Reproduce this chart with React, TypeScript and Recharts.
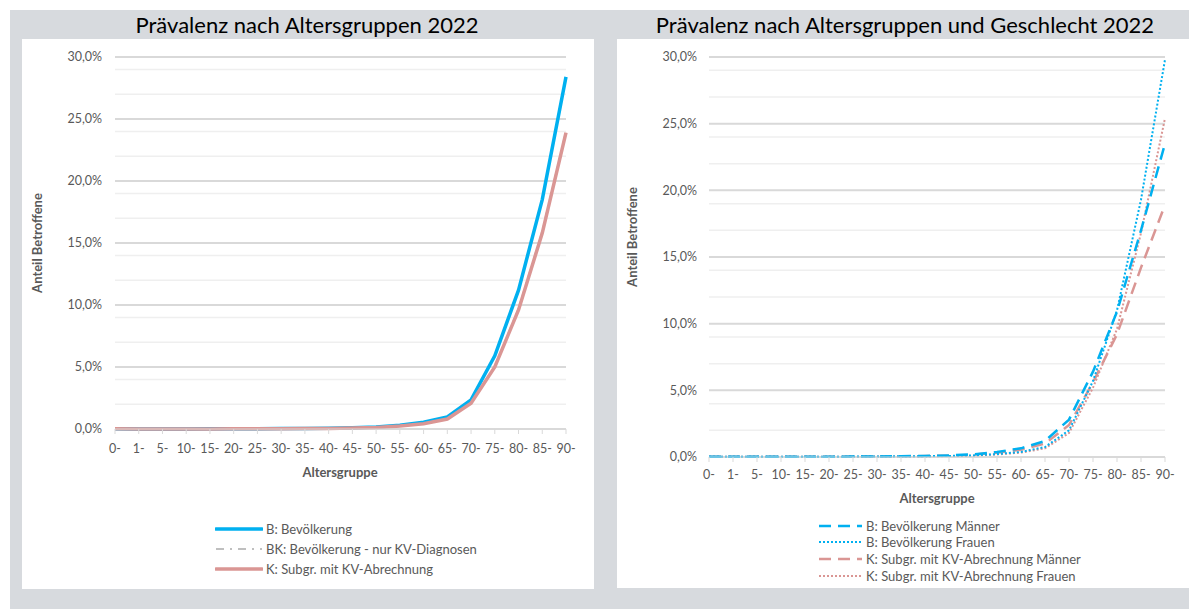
import React from 'react';
import { LineChart, Line, XAxis, YAxis, CartesianGrid } from 'recharts';

const ageGroups = ['0-', '1-', '5-', '10-', '15-', '20-', '25-', '30-', '35-', '40-', '45-', '50-', '55-', '60-', '65-', '70-', '75-', '80-', '85-', '90-'];

// Anteil in Prozent
const bevoelkerung = [0.02, 0.01, 0.01, 0.01, 0.02, 0.02, 0.03, 0.04, 0.05, 0.07, 0.1, 0.16, 0.3, 0.55, 0.98, 2.35, 5.9, 11.2, 18.5, 28.4];
const bevoelkerungKV = [0.02, 0.01, 0.01, 0.01, 0.01, 0.02, 0.02, 0.03, 0.04, 0.05, 0.08, 0.13, 0.25, 0.44, 0.82, 2.1, 5.05, 9.7, 15.9, 24.0];
const subgruppeKV = [0.02, 0.01, 0.01, 0.01, 0.01, 0.02, 0.02, 0.03, 0.04, 0.05, 0.08, 0.13, 0.24, 0.42, 0.8, 2.07, 5.0, 9.6, 15.8, 23.9];

const bevMaenner = [0.02, 0.01, 0.01, 0.01, 0.02, 0.02, 0.03, 0.04, 0.06, 0.08, 0.12, 0.2, 0.38, 0.65, 1.2, 2.8, 6.4, 10.9, 17.0, 23.5];
const bevFrauen = [0.02, 0.01, 0.01, 0.01, 0.01, 0.02, 0.03, 0.04, 0.05, 0.06, 0.08, 0.12, 0.22, 0.38, 0.75, 2.0, 5.7, 11.0, 19.3, 29.8];
const kvMaenner = [0.02, 0.01, 0.01, 0.01, 0.02, 0.02, 0.03, 0.04, 0.05, 0.07, 0.1, 0.17, 0.32, 0.55, 1.0, 2.4, 5.6, 9.2, 14.2, 18.9];
const kvFrauen = [0.02, 0.01, 0.01, 0.01, 0.01, 0.02, 0.02, 0.03, 0.04, 0.05, 0.07, 0.1, 0.19, 0.33, 0.65, 1.8, 5.2, 9.6, 16.8, 25.4];

const majorTicks = [0, 5, 10, 15, 20, 25, 30];
const minorTicks = [1, 2, 3, 4, 6, 7, 8, 9, 11, 12, 13, 14, 16, 17, 18, 19, 21, 22, 23, 24, 26, 27, 28, 29];

const FONT = 'Lato, "Open Sans", sans-serif';
const TEXT = '#595959';
const BLUE = '#00b0f0';
const RED = '#da9694';
const GREY_BG = '#d7dade';

const totalData = ageGroups.map((g, i) => ({
  name: g,
  b: bevoelkerung[i],
  bk: bevoelkerungKV[i],
  k: subgruppeKV[i],
}));

const sexData = ageGroups.map((g, i) => ({
  name: g,
  bm: bevMaenner[i],
  bf: bevFrauen[i],
  km: kvMaenner[i],
  kf: kvFrauen[i],
}));

const pct = (v: number) => `${v.toFixed(1).replace('.', ',')}%`;

const tickStyle = { fontSize: 12.5, fill: TEXT, fontFamily: FONT };

function Grid() {
  return (
    <>
      <CartesianGrid vertical={false} horizontalValues={minorTicks} stroke="#efefef" strokeWidth={1.5} />
      <CartesianGrid vertical={false} horizontalValues={majorTicks} stroke="#d9d9d9" strokeWidth={2} />
    </>
  );
}

function LegendRow({ label, color, dash, width, top, left, lineW }: { label: string; color: string; dash?: string; width: number; top: number; left: number; lineW: number }) {
  return (
    <div style={{ position: 'absolute', left, top, display: 'flex', alignItems: 'center', height: 16 }}>
      <svg width={lineW} height={8} style={{ marginRight: 3 }}>
        <line x1={1} y1={4} x2={lineW - 1} y2={4} stroke={color} strokeWidth={width} strokeDasharray={dash} strokeLinecap={dash ? 'butt' : 'round'} />
      </svg>
      <span style={{ fontSize: 13, color: TEXT, fontFamily: FONT, whiteSpace: 'nowrap' }}>{label}</span>
    </div>
  );
}

const titleStyle: React.CSSProperties = {
  position: 'absolute',
  fontFamily: FONT,
  fontSize: 22,
  color: '#000',
  whiteSpace: 'nowrap',
  transform: 'translateX(-50%)',
};

const axisTitle: React.CSSProperties = {
  position: 'absolute',
  fontFamily: FONT,
  fontSize: 13,
  fontWeight: 700,
  color: TEXT,
  whiteSpace: 'nowrap',
};

export default function App() {
  return (
    <div style={{ position: 'fixed', left: 0, top: 0, width: 1189, height: 609, background: '#fff', overflow: 'hidden' }}>
      <div style={{ position: 'absolute', left: 10, top: 10, width: 1179, height: 599, background: GREY_BG }} />

      {/* linkes Diagramm */}
      <div style={{ ...titleStyle, left: 307, top: 11 }}>Prävalenz nach Altersgruppen 2022</div>
      <div style={{ position: 'absolute', left: 22, top: 39, width: 572, height: 550, background: '#fff' }}>
        <LineChart width={572} height={550} data={totalData} margin={{ top: 18, right: 28, left: 33, bottom: 130 }}>
          <Grid />
          <XAxis
            dataKey="name"
            interval={0}
            stroke="#d9d9d9"
            tick={tickStyle}
            tickSize={5}
            tickMargin={10}
            height={30}
          />
          <YAxis
            domain={[0, 30]}
            ticks={majorTicks}
            tickFormatter={pct}
            axisLine={false}
            tickLine={false}
            tickSize={0}
            tickMargin={13}
            width={60}
            tick={tickStyle}
          />
          <Line type="linear" dataKey="bk" stroke="#bfbfbf" strokeWidth={2} strokeDasharray="8 5 2 5" dot={false} isAnimationActive={false} />
          <Line type="linear" dataKey="b" stroke={BLUE} strokeWidth={3.5} dot={false} isAnimationActive={false} />
          <Line type="linear" dataKey="k" stroke={RED} strokeWidth={3.5} dot={false} isAnimationActive={false} />
        </LineChart>
      </div>
      <div style={{ ...axisTitle, left: 37, top: 243, transform: 'translate(-50%, -50%) rotate(-90deg)' }}>Anteil Betroffene</div>
      <div style={{ ...axisTitle, left: 340, top: 472, transform: 'translate(-50%, -50%)' }}>Altersgruppe</div>
      <LegendRow label="B: Bevölkerung" color={BLUE} width={3.5} top={521} left={215} lineW={48} />
      <LegendRow label="BK: Bevölkerung - nur KV-Diagnosen" color="#bfbfbf" width={2} dash="8 6 2 6" top={541} left={215} lineW={48} />
      <LegendRow label="K: Subgr. mit KV-Abrechnung" color={RED} width={3.5} top={561} left={215} lineW={48} />

      {/* rechtes Diagramm */}
      <div style={{ ...titleStyle, left: 905, top: 11 }}>Prävalenz nach Altersgruppen und Geschlecht 2022</div>
      <div style={{ position: 'absolute', left: 617, top: 39, width: 572, height: 549, background: '#fff' }}>
        <LineChart width={572} height={549} data={sexData} margin={{ top: 18, right: 24, left: 32, bottom: 101 }}>
          <Grid />
          <XAxis
            dataKey="name"
            interval={0}
            stroke="#d9d9d9"
            tick={tickStyle}
            tickSize={5}
            tickMargin={8}
            height={30}
          />
          <YAxis
            domain={[0, 30]}
            ticks={majorTicks}
            tickFormatter={pct}
            axisLine={false}
            tickLine={false}
            tickSize={0}
            tickMargin={12}
            width={60}
            tick={tickStyle}
          />
          <Line type="linear" dataKey="km" stroke={RED} strokeWidth={2.5} strokeDasharray="12 7" dot={false} isAnimationActive={false} />
          <Line type="linear" dataKey="kf" stroke={RED} strokeWidth={2} strokeDasharray="2 2" dot={false} isAnimationActive={false} />
          <Line type="linear" dataKey="bm" stroke={BLUE} strokeWidth={2.5} strokeDasharray="12 7" dot={false} isAnimationActive={false} />
          <Line type="linear" dataKey="bf" stroke={BLUE} strokeWidth={2} strokeDasharray="2 2" dot={false} isAnimationActive={false} />
        </LineChart>
      </div>
      <div style={{ ...axisTitle, left: 632, top: 237, transform: 'translate(-50%, -50%) rotate(-90deg)' }}>Anteil Betroffene</div>
      <div style={{ ...axisTitle, left: 937, top: 498, transform: 'translate(-50%, -50%)' }}>Altersgruppe</div>
      <LegendRow label="B: Bevölkerung Männer" color={BLUE} width={2.5} dash="12 7" top={518} left={818} lineW={45} />
      <LegendRow label="B: Bevölkerung Frauen" color={BLUE} width={2} dash="2 2" top={534} left={818} lineW={45} />
      <LegendRow label="K: Subgr. mit KV-Abrechnung Männer" color={RED} width={2.5} dash="12 7" top={551} left={818} lineW={45} />
      <LegendRow label="K: Subgr. mit KV-Abrechnung Frauen" color={RED} width={2} dash="2 2" top={568} left={818} lineW={45} />
    </div>
  );
}
